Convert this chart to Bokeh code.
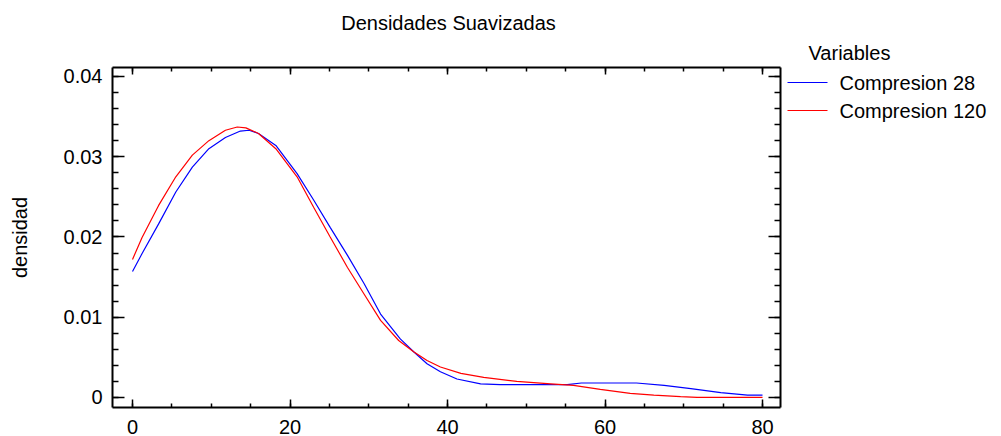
import math
from bokeh.plotting import figure
from bokeh.models import (Range1d, LinearAxis, FixedTicker, Label,
                          CustomJSTickFormatter)
from bokeh.embed import file_html
from bokeh.resources import INLINE

# Smoothed density estimates (x = strength, y = density)
x_c28 = [0, 1.2, 3.3, 5.5, 7.6, 9.7, 11.8, 13.7, 14.8, 16.0, 18.2, 20.9, 23.0,
         25.1, 27.3, 29.4, 31.5, 34.0, 35.7, 37.4, 39.1, 41.2, 44.2, 46.7,
         51.0, 55.2, 57.0, 64.0, 67.5, 70.9, 74.7, 78.1, 80.0]
y_c28 = [0.0157, 0.0179, 0.0216, 0.0256, 0.0287, 0.0310, 0.0324, 0.0332,
         0.0333, 0.0329, 0.0314, 0.0279, 0.0246, 0.0212, 0.0177, 0.0142,
         0.0104, 0.0073, 0.0057, 0.0042, 0.0032, 0.0023, 0.0017, 0.0016,
         0.0016, 0.0016, 0.0018, 0.0018, 0.0015, 0.0011, 0.0006, 0.0003, 0.0003]

x_c120 = [0, 1.2, 3.3, 5.5, 7.6, 9.7, 11.8, 13.3, 14.4, 16.0, 18.2, 20.9, 23.0,
          25.1, 27.3, 29.4, 31.5, 33.8, 35.7, 37.4, 39.1, 41.7, 44.6, 48.8,
          53.1, 56.0, 59.4, 63.2, 66.2, 69.6, 71.7, 80.0]
y_c120 = [0.0172, 0.0199, 0.0239, 0.0275, 0.0302, 0.0320, 0.0333, 0.0337,
          0.0336, 0.0329, 0.0310, 0.0275, 0.0237, 0.0200, 0.0162, 0.0129,
          0.0096, 0.0071, 0.0057, 0.0046, 0.0038, 0.0030, 0.0025, 0.0020,
          0.0017, 0.0015, 0.0010, 0.0005, 0.0003, 0.0001, 0.0, 0.0]

series_names = ["Compresion 28", "Compresion 120"]
series_colors = ["#0000ff", "#ff0000"]
x_ticks = [0, 20, 40, 60, 80]
y_ticks = [0, 0.01, 0.02, 0.03, 0.04]

FONT = "Liberation Sans"
SIZE = "20px"
W, H = 1001, 436
PX_X = 7.875                    # pixels per x unit
PX_Y = 8025.0                   # pixels per y unit

# Boxed data area and where its lower-left corner sits on the page
box_x = (-2.54, 82.29)
box_y = (-0.00125, 0.04108)
box_left_px, box_bottom_px, box_top_px = 112, 407, 67

# Key layout (page pixels, measured from the top-left corner)
key_line_left_px, key_line_len_px, key_text_left_px = 787, 40, 839
key_rows_px = [82, 110]
key_heading_px = (808, 52)


def data_x(px):
    return box_x[0] + (px - box_left_px) / PX_X


def data_y(py):
    return box_y[0] + (box_bottom_px - py) / PX_Y


# The frame fills the whole page; the box edges are axes pinned to its limits.
x_range = Range1d(data_x(0), data_x(W))
y_range = Range1d(data_y(H), data_y(0))

p = figure(width=W, height=H, output_backend="svg", toolbar_location=None,
           x_range=x_range, y_range=y_range,
           x_axis_type=None, y_axis_type=None,
           min_border_left=0, min_border_right=0,
           min_border_top=0, min_border_bottom=0)
p.outline_line_color = None
p.background_fill_color = "white"
p.border_fill_color = "white"

x_minor = [v for v in range(0, 81, 5)]
y_minor = [i * 0.002 for i in range(21)]
blank = CustomJSTickFormatter(code="return ''")


def style(ax, major_len, minor_len):
    ax.axis_line_color = "black"
    ax.axis_line_width = 2
    ax.major_tick_line_color = "black"
    ax.major_tick_line_width = 1.5
    ax.minor_tick_line_color = "black"
    ax.minor_tick_line_width = 1.5
    ax.major_tick_in = major_len
    ax.major_tick_out = 0
    ax.minor_tick_in = minor_len
    ax.minor_tick_out = 0
    ax.major_label_text_font = FONT
    ax.major_label_text_font_size = SIZE
    ax.major_label_text_color = "black"


bottom = LinearAxis(ticker=FixedTicker(ticks=x_ticks, minor_ticks=x_minor),
                    fixed_location=box_y[0], bounds=box_x)
style(bottom, 8, 4)
bottom.major_label_standoff = 12
p.add_layout(bottom, "below")

top = LinearAxis(ticker=FixedTicker(ticks=x_ticks, minor_ticks=x_minor),
                 fixed_location=box_y[1], bounds=box_x, formatter=blank)
style(top, 7, 4)
top.major_label_text_font_size = "0px"
p.add_layout(top, "above")

left = LinearAxis(ticker=FixedTicker(ticks=y_ticks, minor_ticks=y_minor),
                  fixed_location=box_x[0], bounds=box_y)
style(left, 12, 6)
left.major_label_overrides = {0: "0"}
left.major_label_standoff = 10
p.add_layout(left, "left")

right = LinearAxis(ticker=FixedTicker(ticks=y_ticks, minor_ticks=y_minor),
                   fixed_location=box_x[1], bounds=box_y, formatter=blank)
style(right, 12, 6)
right.major_label_text_font_size = "0px"
p.add_layout(right, "right")

# Density curves
for xs, ys, color in zip([x_c28, x_c120], [y_c28, y_c120], series_colors):
    p.line(xs, ys, line_color=color, line_width=1.2)


def text_label(text, sx, sy_from_top, **kw):
    return Label(x=sx, y=H - sy_from_top, x_units="screen", y_units="screen",
                 text=text, text_font=FONT, text_font_size=SIZE,
                 text_baseline="middle", text_color="black", **kw)


# Title centred over the box, y-axis caption beside the tick labels
p.add_layout(text_label("Densidades Suavizadas", 448, 22, text_align="center"))
p.add_layout(text_label("densidad", 19, (box_bottom_px + box_top_px) / 2,
                        text_align="center", angle=math.pi / 2))

# Key: heading, then one coloured line sample and name per series
p.add_layout(text_label("Variables", *key_heading_px, text_align="left"))
p.segment(x0=[data_x(key_line_left_px)] * len(series_names),
          x1=[data_x(key_line_left_px + key_line_len_px)] * len(series_names),
          y0=[data_y(r) for r in key_rows_px],
          y1=[data_y(r) for r in key_rows_px],
          line_color=series_colors, line_width=1.2)
for name, row_px in zip(series_names, key_rows_px):
    p.add_layout(text_label(name, key_text_left_px, row_px, text_align="left"))

open("out.html", "w").write(file_html(p, INLINE))
